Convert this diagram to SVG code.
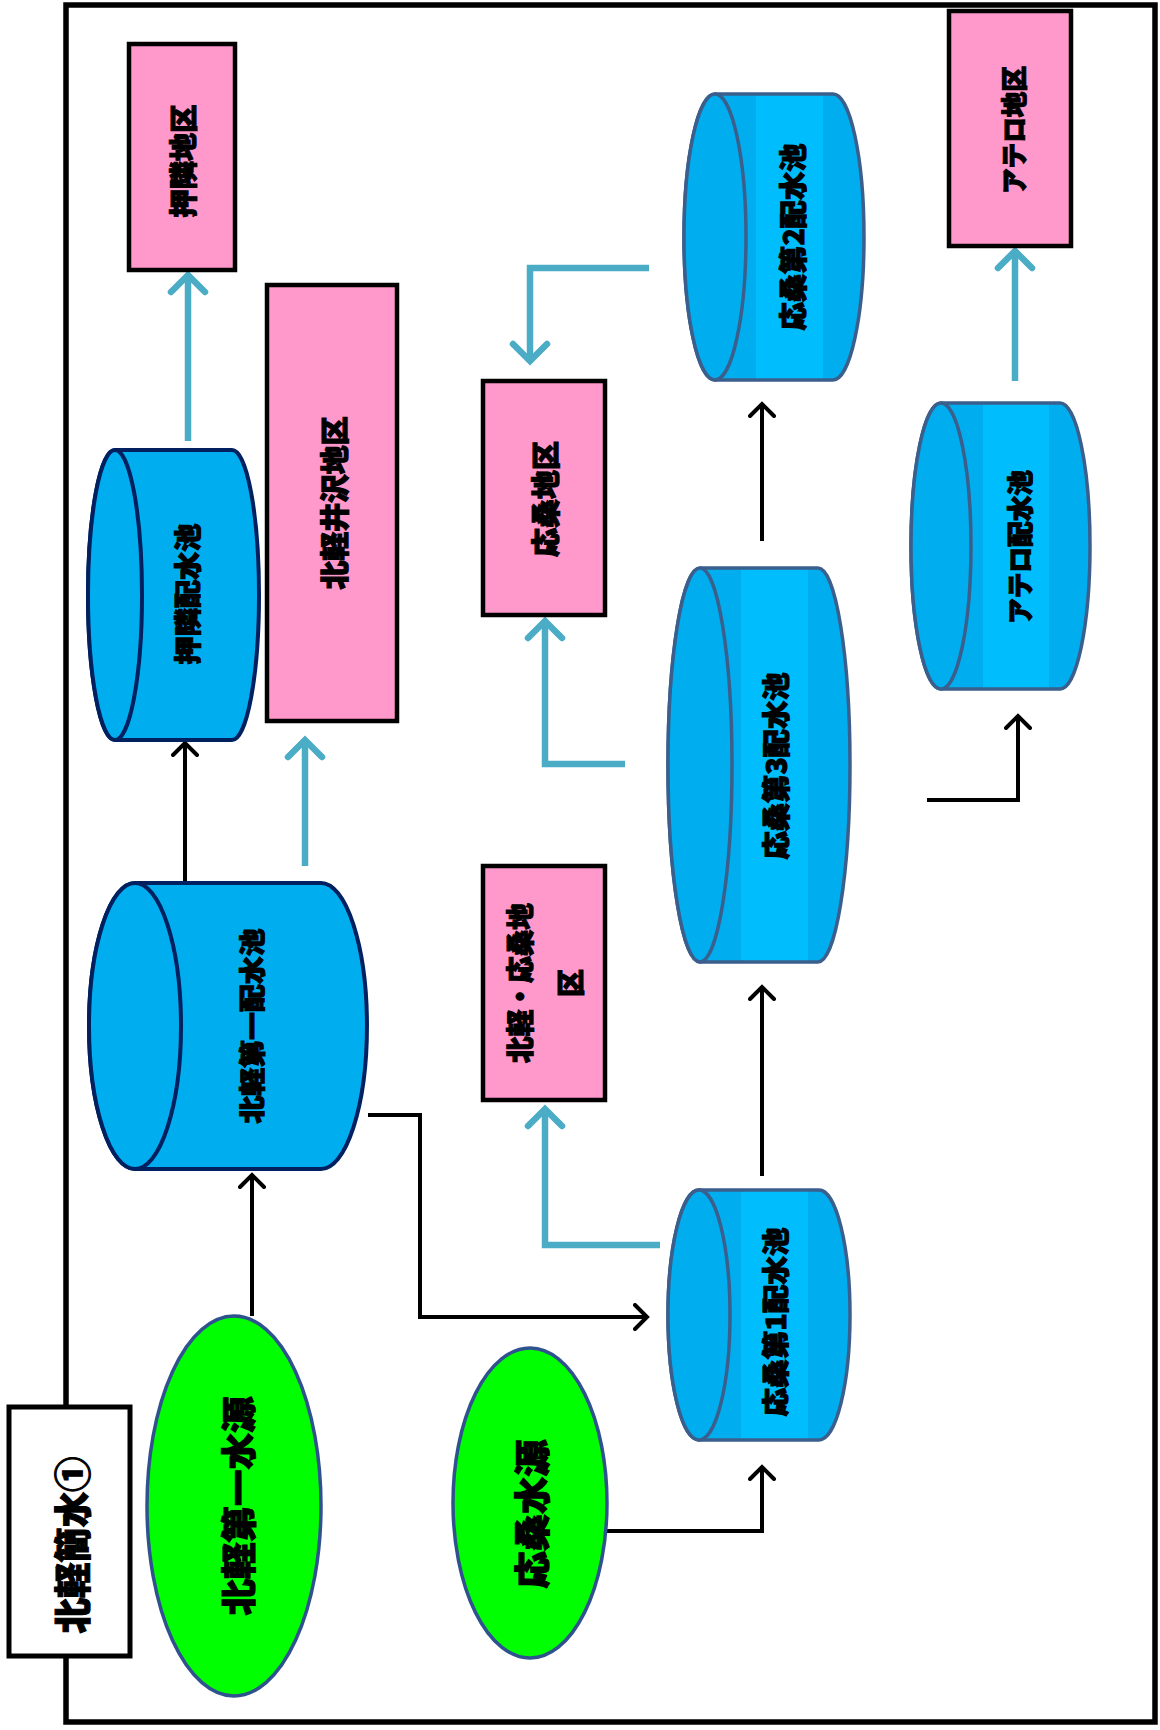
<svg xmlns="http://www.w3.org/2000/svg" width="1160" height="1730" viewBox="0 0 1160 1730">
<style>
text{font-family:"Noto Sans CJK JP","Noto Sans CJK SC",sans-serif;font-weight:900;fill:#000;stroke:#000;stroke-width:1.1;text-anchor:middle;dominant-baseline:central}
.rect{fill:#ff99cc;stroke:#000;stroke-width:4.5}
.src{fill:#00ff00;stroke:#2f528f;stroke-width:3.5}
.cylA{fill:#00aeef;stroke:#002060;stroke-width:4}
.cylB{fill:url(#band);stroke:#3b5f8c;stroke-width:3.5}
.faceB{fill:#00aeef;stroke:#3b5f8c;stroke-width:3.5}
.blk{fill:none;stroke:#000;stroke-width:4;marker-end:url(#ah)}
.blu{fill:none;stroke:#4bacc6;stroke-width:6.5;marker-end:url(#bh)}
</style>
<defs>
<linearGradient id="band" x1="0" y1="0" x2="1" y2="0">
<stop offset="0" stop-color="#00aeef"/><stop offset="0.4" stop-color="#00aeef"/><stop offset="0.4" stop-color="#00bdfd"/><stop offset="0.77" stop-color="#00bdfd"/><stop offset="0.77" stop-color="#00aeef"/><stop offset="1" stop-color="#00aeef"/>
</linearGradient>
<marker id="ah" markerUnits="userSpaceOnUse" viewBox="0 0 18 28" markerWidth="18" markerHeight="28" refX="15" refY="14" orient="auto">
<path d="M2,2 L14,14 L2,26" fill="none" stroke="#000" stroke-width="4" stroke-linecap="round"/>
</marker>
<marker id="bh" markerUnits="userSpaceOnUse" viewBox="0 0 26 42" markerWidth="26" markerHeight="42" refX="22" refY="21" orient="auto">
<path d="M4,4 L21,21 L4,38" fill="none" stroke="#4bacc6" stroke-width="6.5" stroke-linecap="round"/>
</marker>
</defs>
<rect width="1160" height="1730" fill="#fff"/>
<rect id="frame" x="66" y="5" width="1089" height="1717" fill="none" stroke="#000" stroke-width="5.5"/>

<g id="connectors">
<path class="blk" d="M252,1316 V1174"/>
<path class="blk" d="M185,883 V742"/>
<path class="blk" d="M368,1115 H420 V1317 H648"/>
<path class="blk" d="M607,1531 H762 V1466"/>
<path class="blk" d="M762,1176 V986"/>
<path class="blk" d="M762,541 V403"/>
<path class="blk" d="M927,800 H1018 V715"/>
<path class="blu" d="M188,441 V274"/>
<path class="blu" d="M305,866 V739"/>
<path class="blu" d="M660,1245 H545 V1108"/>
<path class="blu" d="M625,764 H545 V620"/>
<path class="blu" d="M649,268 H530 V362"/>
<path class="blu" d="M1015,381 V250"/>
</g>

<g id="title">
<rect x="9" y="1407" width="121" height="249" fill="#fff" stroke="#000" stroke-width="5"/>
<text transform="translate(71,1545) rotate(-90)" font-size="37" textLength="177" lengthAdjust="spacingAndGlyphs">北軽簡水①</text>
</g>

<g id="src1">
<ellipse class="src" cx="234" cy="1506" rx="87" ry="190"/>
<text transform="translate(236,1506) rotate(-90)" font-size="35" textLength="219" lengthAdjust="spacingAndGlyphs">北軽第一水源</text>
</g>
<g id="src2">
<ellipse class="src" cx="530" cy="1503" rx="77" ry="155"/>
<text transform="translate(530,1514) rotate(-90)" font-size="36" textLength="149" lengthAdjust="spacingAndGlyphs">応桑水源</text>
</g>

<g id="tank-kitakaru1">
<path class="cylA" d="M135,883 H321 A46,143 0 0 1 321,1169 H135 A46,143 0 0 1 135,883 Z"/>
<ellipse class="cylA" cx="135" cy="1026" rx="46" ry="143"/>
<text transform="translate(250,1026) rotate(-90)" font-size="26" textLength="195" lengthAdjust="spacingAndGlyphs">北軽第一配水池</text>
</g>
<g id="tank-oshi">
<path class="cylA" d="M115,450 H232 A27,145 0 0 1 232,740 H115 A27,145 0 0 1 115,450 Z"/>
<ellipse class="cylA" cx="115" cy="595" rx="27" ry="145"/>
<text transform="translate(186,594) rotate(-90)" font-size="27" textLength="141" lengthAdjust="spacingAndGlyphs">押隣配水池</text>
</g>
<g id="area-oshi">
<rect class="rect" x="129" y="44" width="106" height="226"/>
<text transform="translate(182,161) rotate(-90)" font-size="28" textLength="113" lengthAdjust="spacingAndGlyphs">押隣地区</text>
</g>
<g id="area-kitakaruizawa">
<rect class="rect" x="267" y="285" width="130" height="436"/>
<text transform="translate(333,503) rotate(-90)" font-size="29" textLength="173" lengthAdjust="spacingAndGlyphs">北軽井沢地区</text>
</g>
<g id="area-kitakaru-osa">
<rect class="rect" x="483" y="866" width="122" height="234"/>
<text transform="translate(519,983) rotate(-90)" font-size="28" textLength="160" lengthAdjust="spacingAndGlyphs">北軽・応桑地</text>
<text transform="translate(569,983) rotate(-90)" font-size="28">区</text>
</g>
<g id="area-osa">
<rect class="rect" x="483" y="381" width="122" height="234"/>
<text transform="translate(544,499) rotate(-90)" font-size="29" textLength="116" lengthAdjust="spacingAndGlyphs">応桑地区</text>
</g>
<g id="area-atero">
<rect class="rect" x="949" y="11" width="122" height="235"/>
<text transform="translate(1012,130) rotate(-90)" font-size="26" textLength="128" lengthAdjust="spacingAndGlyphs">アテロ地区</text>
</g>

<g id="tank-osa1">
<path class="cylB" d="M699,1190 H819 A31,125 0 0 1 819,1440 H699 A31,125 0 0 1 699,1190 Z"/>
<ellipse class="faceB" cx="699" cy="1315" rx="31" ry="125"/>
<text transform="translate(774,1322) rotate(-90)" font-size="27" textLength="189" lengthAdjust="spacingAndGlyphs">応桑第1配水池</text>
</g>
<g id="tank-osa3">
<path class="cylB" d="M700,568 H818 A32,197 0 0 1 818,962 H700 A32,197 0 0 1 700,568 Z"/>
<ellipse class="faceB" cx="700" cy="765" rx="32" ry="197"/>
<text transform="translate(775,766) rotate(-90)" font-size="28" textLength="187" lengthAdjust="spacingAndGlyphs">応桑第3配水池</text>
</g>
<g id="tank-osa2">
<path class="cylB" d="M715,94 H833 A31,143 0 0 1 833,380 H715 A31,143 0 0 1 715,94 Z"/>
<ellipse class="faceB" cx="715" cy="237" rx="31" ry="143"/>
<text transform="translate(792,237) rotate(-90)" font-size="28" textLength="187" lengthAdjust="spacingAndGlyphs">応桑第2配水池</text>
</g>
<g id="tank-atero">
<path class="cylB" d="M941,403 H1060 A30,143 0 0 1 1060,689 H941 A30,143 0 0 1 941,403 Z"/>
<ellipse class="faceB" cx="941" cy="546" rx="30" ry="143"/>
<text transform="translate(1018,547) rotate(-90)" font-size="26" textLength="154" lengthAdjust="spacingAndGlyphs">アテロ配水池</text>
</g>
</svg>
